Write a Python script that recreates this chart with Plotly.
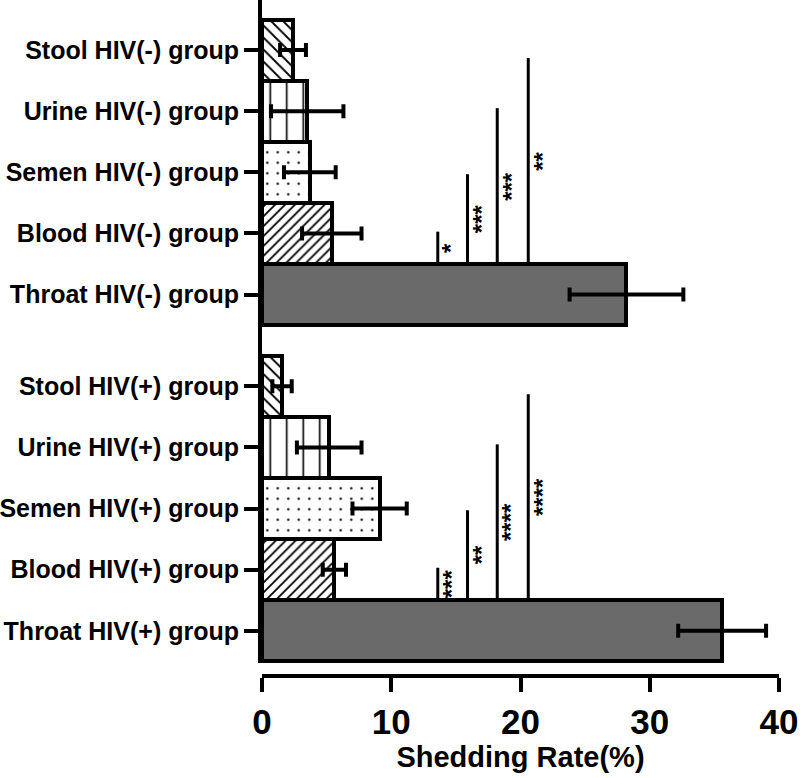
import plotly.graph_objects as go

# ---------------- data ----------------
samples = ["Throat", "Blood", "Semen", "Urine", "Stool"]
groups = ["HIV(+)", "HIV(-)"]

rate_pos = [35.6, 5.6, 9.1, 5.2, 1.55]   # shedding rate (%), HIV(+) group
err_pos = [3.4, 0.9, 2.1, 2.5, 0.75]

rate_neg = [28.2, 5.4, 3.7, 3.5, 2.4]    # shedding rate (%), HIV(-) group
err_neg = [4.4, 2.3, 2.0, 2.8, 1.0]

# significance brackets: Throat vs Blood / Semen / Urine / Stool
sig_x = [13.6, 15.9, 18.2, 20.6]
sig_reach = [1.03, 1.97, 3.05, 3.87]     # bracket reaches level of compared bar
sig_pos = ["***", "**", "****", "****"]
sig_neg = ["*", "***", "***", "**"]

x_ticks = [0, 10, 20, 30, 40]

# ---------------- styling ----------------
group_offset = {"HIV(+)": 0.0, "HIV(-)": 5.5}
fill_color = {"Throat": "#6a6a6a", "Blood": "white", "Semen": "white",
              "Urine": "white", "Stool": "white"}
pat_shape = {"Throat": "", "Blood": "/", "Semen": ".", "Urine": "|", "Stool": "\\"}
pat_size = {"Throat": 8, "Blood": 7, "Semen": 10.5, "Urine": 16.5, "Stool": 8.5}
pat_solid = {"Throat": 0.2, "Blood": 0.26, "Semen": 0.04, "Urine": 0.1, "Stool": 0.22}

label_font = dict(family="Liberation Sans, Arial", size=25, color="black", weight="bold")
axis_font = "Liberation Sans, Arial"

fig = go.Figure()

tickvals, ticktext = [], []
for grp, rates, errs in [("HIV(+)", rate_pos, err_pos), ("HIV(-)", rate_neg, err_neg)]:
    for i, s in enumerate(samples):
        yv = group_offset[grp] + i
        tickvals.append(yv)
        ticktext.append(f"{s} {grp} group")
        pattern = dict(shape=pat_shape[s], size=pat_size[s], solidity=pat_solid[s],
                       fgcolor="black", bgcolor=fill_color[s], fillmode="replace")
        fig.add_trace(go.Bar(
            x=[rates[i]], y=[yv], orientation="h", width=1.0,
            marker=dict(color=fill_color[s], line=dict(color="black", width=4),
                        pattern=pattern),
            error_x=dict(type="data", array=[errs[i]], visible=True,
                         color="black", thickness=4, width=7),
            showlegend=False,
        ))

# significance lines + asterisks
for grp, labels in [("HIV(+)", sig_pos), ("HIV(-)", sig_neg)]:
    base = group_offset[grp] + 0.5          # top edge of the Throat bar
    for xv, reach, lab in zip(sig_x, sig_reach, labels):
        top = group_offset[grp] + reach
        fig.add_shape(type="line", xref="x", yref="y",
                      x0=xv, x1=xv, y0=base, y1=top,
                      line=dict(color="black", width=3))
        fig.add_annotation(x=xv, y=(base + top) / 2, xref="x", yref="y",
                           text=lab, showarrow=False, textangle=-90,
                           xanchor="left", yanchor="middle", xshift=-2,
                           font=dict(family=axis_font, size=24, color="black",
                                     weight="bold"))

fig.update_layout(
    width=800, height=778,
    margin=dict(l=262, r=21, t=0, b=102),
    plot_bgcolor="white", paper_bgcolor="white",
    bargap=0, barmode="overlay",
    xaxis=dict(
        range=[0, 40], tickvals=x_ticks, ticktext=[str(v) for v in x_ticks],
        showline=True, linecolor="black", linewidth=4,
        ticks="outside", ticklen=14, tickwidth=4, tickcolor="black",
        showgrid=False, zeroline=False,
        anchor="free", position=0,
        tickfont=dict(family=axis_font, size=35, color="black", weight="bold"),
        title=dict(text="Shedding Rate(%)", standoff=4,
                   font=dict(family=axis_font, size=29, color="black", weight="bold")),
    ),
    yaxis=dict(
        range=[-0.53, 10.32], domain=[0.019, 1], anchor="x",
        tickvals=tickvals, ticktext=ticktext,
        showline=True, linecolor="black", linewidth=4,
        ticks="outside", ticklen=14, tickwidth=4, tickcolor="black",
        showgrid=False, zeroline=False,
        tickfont=label_font,
    ),
)

fig.write_html("out.html", config={"displayModeBar": False},
               post_script="document.body.style.margin='0px';")
